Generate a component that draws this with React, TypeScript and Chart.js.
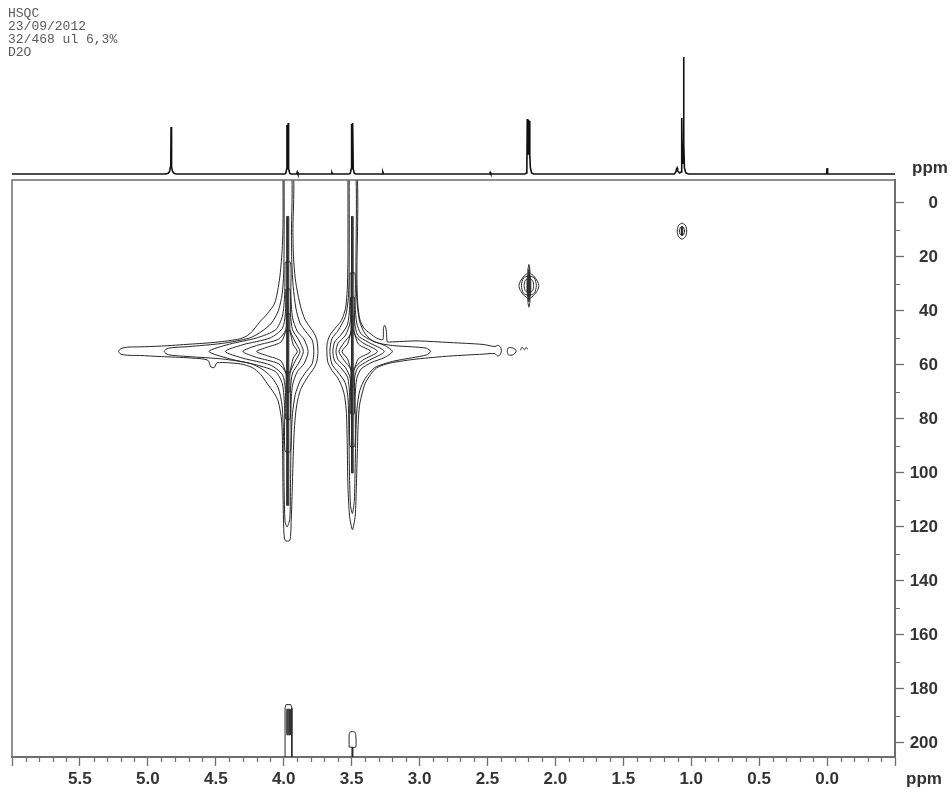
import React, { useEffect, useRef } from "react";
import { Chart, registerables } from "chart.js";
Chart.register(...registerables);

type P = [number, number];

// ---------- axes ----------
const X_MIN = -0.5;
const X_MAX = 6.0;
const Y_MIN = -8.5;
const Y_MAX = 205.2;
const xMajorTicks = [6.0, 5.5, 5.0, 4.5, 4.0, 3.5, 3.0, 2.5, 2.0, 1.5, 1.0, 0.5, 0.0, -0.5];
const xTickLabels = ["", "5.5", "5.0", "4.5", "4.0", "3.5", "3.0", "2.5", "2.0", "1.5", "1.0", "0.5", "0.0", ""];
const yMajorTicks = [0, 20, 40, 60, 80, 100, 120, 140, 160, 180, 200];
const yTickLabels = ["0", "20", "40", "60", "80", "100", "120", "140", "160", "180", "200"];
const headerLines = ["HSQC", "23/09/2012", "32/468 ul 6,3%", "D2O"];

// ---------- 1H projection (ppm, intensity) ----------
const hdoPeak: P[] = [[4.87, 0], [4.85, 0.8], [4.84, 2.5], [4.834, 7], [4.831, 18], [4.829, 47], [4.827, 18], [4.824, 7], [4.818, 2.5], [4.808, 0.8], [4.79, 0]];
const peak397: P[] = [[3.995, 0], [3.985, 0.6], [3.978, 5], [3.976, 49], [3.973, 12], [3.97, 10], [3.967, 51], [3.964, 5], [3.955, 0.6], [3.945, 0]];
const minor390: P[] = [[3.905, 0], [3.9, 2], [3.895, 0]];
const minor364: P[] = [[3.65, 0], [3.645, 1.5], [3.64, 0]];
const peak349: P[] = [[3.52, 0], [3.51, 0.6], [3.503, 5], [3.5, 50], [3.497, 12], [3.494, 10], [3.491, 51], [3.488, 5], [3.48, 0.6], [3.47, 0]];
const minor327: P[] = [[3.275, 0], [3.27, 2], [3.265, 0]];
const minor248: P[] = [[2.485, 0], [2.48, 1.5], [2.475, 0]];
const peak219: P[] = [[2.225, 0], [2.213, 1], [2.21, 6], [2.207, 55], [2.205, 20], [2.202, 55], [2.2, 20], [2.197, 54], [2.195, 20], [2.192, 53], [2.19, 16], [2.187, 19], [2.184, 6], [2.175, 1], [2.16, 0]];
const peak106: P[] = [[1.125, 0], [1.113, 2], [1.108, 5], [1.104, 6], [1.1, 3], [1.085, 1], [1.075, 2], [1.071, 12], [1.069, 56], [1.066, 14], [1.062, 10], [1.058, 30], [1.056, 117], [1.054, 30], [1.05, 6], [1.04, 1], [1.02, 0]];
const tmsPeak: P[] = [[0.004, 0], [0.0, 6], [-0.004, 0]];

// ---------- 2D contours (1H ppm, 13C ppm) ----------
const c397L1: P[] = [[4.005, -12], [4.005, 8], [4.012, 18], [4.03, 28], [4.065, 37], [4.12, 41], [4.175, 44], [4.25, 48.5], [4.32, 50.3], [4.5, 51.6], [4.69, 52.3], [4.9, 53], [5.06, 53.3], [5.15, 53.4], [5.2, 54], [5.215, 55], [5.2, 56], [5.15, 56.4], [5.06, 56.5], [4.9, 56.9], [4.69, 57.4], [4.56, 58.2], [4.535, 60.8], [4.51, 60.9], [4.49, 59.2], [4.32, 59.6], [4.23, 61], [4.17, 63.5], [4.12, 67], [4.07, 70.5], [4.04, 73.5], [4.015, 80.7], [4.008, 92], [4.005, 107], [4.0, 120], [3.99, 125], [3.955, 125], [3.945, 118], [3.937, 106], [3.93, 94], [3.922, 84], [3.91, 77], [3.895, 72.5], [3.875, 69], [3.845, 66.2], [3.81, 63.5], [3.775, 61], [3.755, 58.5], [3.748, 55], [3.755, 51], [3.775, 48.3], [3.81, 45.8], [3.845, 43], [3.875, 38.5], [3.895, 34], [3.915, 28], [3.928, 20], [3.932, 10], [3.932, -12], [4.005, -12]];
const c397L2: P[] = [[3.997, -12], [3.997, 15], [4.0, 26], [4.012, 34], [4.04, 40], [4.09, 44.5], [4.16, 47.5], [4.25, 50], [4.45, 52], [4.7, 53.2], [4.85, 53.8], [4.88, 55], [4.85, 56.2], [4.7, 56.9], [4.45, 57.8], [4.25, 59.4], [4.16, 61.5], [4.09, 64.5], [4.04, 68.5], [4.012, 75], [4.0, 88], [3.997, 105], [3.99, 118], [3.975, 120], [3.955, 117], [3.95, 104], [3.945, 88], [3.935, 78], [3.915, 71], [3.88, 66], [3.835, 62.5], [3.79, 59.5], [3.778, 55], [3.79, 50.8], [3.835, 47.8], [3.88, 44.5], [3.91, 39], [3.93, 31], [3.94, 22], [3.943, 12], [3.943, -12], [3.997, -12]];
const c397L3: P[] = [[3.99, 22], [3.993, 34], [4.01, 42], [4.06, 47], [4.2, 50], [4.4, 52.3], [4.55, 55], [4.4, 57.7], [4.2, 60], [4.06, 62.5], [4.01, 67], [3.993, 76], [3.99, 92], [3.95, 92], [3.947, 76], [3.935, 67.5], [3.9, 62.5], [3.85, 59.5], [3.82, 55], [3.85, 50.5], [3.9, 47.5], [3.935, 42.5], [3.947, 34], [3.95, 22], [3.99, 22]];
const c397L4: P[] = [[3.985, 32], [3.988, 41], [4.01, 46.5], [4.1, 50], [4.3, 52.5], [4.43, 55], [4.3, 57.5], [4.1, 60], [4.01, 63.5], [3.988, 69], [3.985, 80], [3.953, 80], [3.95, 69], [3.935, 63], [3.89, 59.3], [3.855, 55], [3.89, 50.7], [3.935, 47], [3.95, 41], [3.953, 32], [3.985, 32]];
const c397L5: P[] = [[3.982, 41], [3.985, 47], [4.04, 50.5], [4.2, 52.8], [4.3, 55], [4.2, 57.2], [4.04, 59.5], [3.985, 63], [3.982, 70], [3.956, 70], [3.953, 63], [3.915, 58.5], [3.88, 55], [3.915, 51.5], [3.953, 47], [3.956, 41], [3.982, 41]];
const c397L6: P[] = [[3.98, 47], [4.02, 51.5], [4.12, 53.4], [4.2, 55], [4.12, 56.6], [4.02, 58.5], [3.98, 63], [3.958, 63], [3.93, 57.5], [3.9, 55], [3.93, 52.5], [3.958, 47], [3.98, 47]];
const c397Core: P[] = [[3.976, 5], [3.976, 112], [3.962, 112], [3.962, 5], [3.976, 5]];

const c349L1: P[] = [[3.527, -12], [3.527, 20], [3.532, 32], [3.545, 39], [3.575, 43.5], [3.623, 46.5], [3.66, 49], [3.68, 52], [3.682, 55.5], [3.675, 59], [3.645, 62], [3.6, 65], [3.568, 68.5], [3.55, 72], [3.538, 78], [3.532, 90], [3.527, 105], [3.515, 116], [3.494, 121], [3.474, 116], [3.465, 105], [3.458, 92], [3.452, 82], [3.442, 75], [3.42, 70], [3.4, 66.8], [3.36, 63.5], [3.314, 61], [3.218, 59.3], [3.019, 57.8], [2.776, 56.7], [2.533, 56], [2.445, 55.8], [2.425, 56.7], [2.405, 56.1], [2.398, 54.8], [2.405, 53.3], [2.425, 52.7], [2.445, 53.2], [2.533, 52.4], [2.776, 51.7], [3.019, 51.1], [3.218, 51.5], [3.238, 51.4], [3.243, 48], [3.25, 45.8], [3.258, 45.3], [3.266, 46.6], [3.27, 50.6], [3.314, 50.1], [3.365, 48.3], [3.41, 46.3], [3.44, 43], [3.455, 37], [3.461, 28], [3.461, -12], [3.527, -12]];
const c349L2: P[] = [[3.518, -12], [3.518, 24], [3.524, 35], [3.545, 42], [3.6, 47.3], [3.645, 50.3], [3.66, 55], [3.645, 59.7], [3.6, 62.7], [3.548, 66.5], [3.527, 72], [3.52, 85], [3.516, 100], [3.508, 112], [3.494, 115], [3.48, 110], [3.474, 98], [3.468, 84], [3.46, 76], [3.44, 69.5], [3.4, 65], [3.33, 61], [3.2, 58.7], [3.05, 57.3], [2.95, 56.3], [2.918, 55], [2.95, 53.8], [3.05, 53.3], [3.2, 52.8], [3.33, 51.5], [3.4, 48.5], [3.44, 44], [3.46, 37], [3.468, 26], [3.47, -12], [3.518, -12]];
const c349L3: P[] = [[3.512, 26], [3.514, 38], [3.53, 45], [3.58, 49], [3.625, 51.5], [3.638, 55], [3.625, 58.5], [3.58, 61], [3.53, 64.5], [3.514, 72], [3.512, 90], [3.476, 90], [3.474, 72], [3.462, 65], [3.43, 61.5], [3.35, 59], [3.26, 57.3], [3.2, 55], [3.26, 52.7], [3.35, 51], [3.43, 48.5], [3.462, 44.5], [3.474, 38], [3.476, 26], [3.512, 26]];
const c349L4: P[] = [[3.508, 35], [3.51, 44], [3.545, 49], [3.6, 52], [3.615, 55], [3.6, 58], [3.545, 61], [3.51, 65], [3.508, 78], [3.48, 78], [3.478, 65], [3.455, 61], [3.38, 58.5], [3.26, 55], [3.38, 51.5], [3.455, 49], [3.478, 44], [3.48, 35], [3.508, 35]];
const c349L5: P[] = [[3.505, 42], [3.508, 48.5], [3.555, 51.7], [3.593, 55], [3.555, 58.3], [3.508, 61.5], [3.505, 68], [3.483, 68], [3.48, 61.5], [3.42, 58.3], [3.31, 55], [3.42, 51.7], [3.48, 48.5], [3.483, 42], [3.505, 42]];
const c349L6: P[] = [[3.502, 47], [3.53, 52.3], [3.571, 55], [3.53, 57.7], [3.502, 62], [3.486, 62], [3.45, 57.7], [3.36, 55], [3.45, 52.3], [3.486, 47], [3.502, 47]];
const c349Core: P[] = [[3.5, 5], [3.5, 100], [3.488, 100], [3.488, 5], [3.5, 5]];
const tailBlobA: P[] = [[2.355, 55], [2.345, 53.6], [2.31, 53.8], [2.288, 54.8], [2.31, 56.2], [2.345, 56.3], [2.355, 55]];
const tailBlobB: P[] = [[2.258, 54.6], [2.245, 53.4], [2.228, 54.4], [2.215, 53.5], [2.205, 54.2]];

const c219L1: P[] = [[2.195, 22.8], [2.188, 24.5], [2.185, 26], [2.16, 27], [2.132, 29], [2.122, 30.6], [2.132, 32.4], [2.16, 34.3], [2.185, 35.3], [2.188, 36.8], [2.195, 38.6], [2.202, 36.8], [2.205, 35.3], [2.23, 34.3], [2.258, 32.4], [2.268, 30.6], [2.258, 29], [2.23, 27], [2.205, 26], [2.202, 24.5], [2.195, 22.8]];
const c219L2: P[] = [[2.195, 27], [2.235, 27.8], [2.25, 30.6], [2.235, 33.4], [2.195, 34.2], [2.155, 33.4], [2.14, 30.6], [2.155, 27.8], [2.195, 27]];
const c219L3: P[] = [[2.195, 28], [2.222, 28.7], [2.23, 30.6], [2.222, 32.5], [2.195, 33.2], [2.168, 32.5], [2.16, 30.6], [2.168, 28.7], [2.195, 28]];
const c219Core: P[] = [[2.195, 24.6], [2.207, 28], [2.208, 33], [2.195, 36.6], [2.182, 33], [2.183, 28], [2.195, 24.6]];

const c106L1: P[] = [[1.068, 7.4], [1.093, 8.3], [1.103, 10.4], [1.093, 12.5], [1.068, 13.4], [1.043, 12.5], [1.033, 10.4], [1.043, 8.3], [1.068, 7.4]];
const c106L2: P[] = [[1.068, 8.7], [1.082, 9.3], [1.087, 10.4], [1.082, 11.5], [1.068, 12.1], [1.054, 11.5], [1.049, 10.4], [1.054, 9.3], [1.068, 8.7]];
const c106Core: P[] = [[1.062, 8.8], [1.072, 8.8], [1.072, 12], [1.062, 12], [1.062, 8.8]];

const fold397: P[] = [[3.99, 212], [3.99, 187], [3.982, 185.8], [3.948, 185.8], [3.94, 187], [3.94, 212], [3.99, 212]];
const fold397Core: P[] = [[3.978, 197], [3.978, 187.5], [3.952, 187.5], [3.952, 197], [3.978, 197]];
const fold349: P[] = [[3.518, 201.5], [3.518, 196.8], [3.51, 195.9], [3.478, 195.9], [3.47, 196.8], [3.47, 201.5], [3.518, 201.5]];
const fold349Tail: P[] = [[3.494, 201.5], [3.494, 212]];

// ---------- styles ----------
const AXIS = "#6e6e6e";
const INK = "#262626";
const LABEL = "#333333";
const labelFont = { family: "'Liberation Sans', Arial, sans-serif", size: 17, weight: "bold" as const };

type CDef = { pts: P[]; fill?: string; w?: number; t?: number };
const contours: CDef[] = [
  { pts: c397L1 }, { pts: c397L2 }, { pts: c397L3 }, { pts: c397L4 }, { pts: c397L5 }, { pts: c397L6 },
  { pts: c397Core, fill: "#4a4a4a", w: 0.8, t: 0 },
  { pts: c349L1 }, { pts: c349L2 }, { pts: c349L3 }, { pts: c349L4 }, { pts: c349L5 }, { pts: c349L6 },
  { pts: c349Core, fill: "#4a4a4a", w: 0.8, t: 0 },
  { pts: tailBlobA }, { pts: tailBlobB },
  { pts: c219L1 }, { pts: c219L2 }, { pts: c219L3 }, { pts: c219Core, fill: "#333", w: 1 },
  { pts: c106L1 }, { pts: c106L2 }, { pts: c106Core, fill: "#333", w: 0.8, t: 0 },
  { pts: fold397, t: 0 }, { pts: fold397Core, fill: "#4a4a4a", w: 0.8, t: 0 },
  { pts: fold349, t: 0.2 }, { pts: fold349Tail, w: 2, t: 0 },
];

const minorTicks = {
  id: "minorTicks",
  afterDraw(chart: any) {
    const { ctx } = chart;
    const xs = chart.scales.x;
    const ys = chart.scales.y;
    const { left, top, right, bottom } = chart.chartArea;
    ctx.save();
    // box (top & left)
    ctx.strokeStyle = AXIS;
    ctx.lineWidth = 1.5;
    ctx.beginPath();
    ctx.moveTo(left, bottom);
    ctx.lineTo(left, top);
    ctx.lineTo(right, top);
    ctx.stroke();
    ctx.lineWidth = 1.2;
    ctx.beginPath();
    for (let i = Math.round(X_MIN * 10); i <= Math.round(X_MAX * 10); i++) {
      if (i % 5 === 0) continue;
      const px = Math.round(xs.getPixelForValue(i / 10)) + 0.5;
      ctx.moveTo(px, xs.top);
      ctx.lineTo(px, xs.top + 5);
    }
    for (let v = 10; v <= 200; v += 20) {
      const py = Math.round(ys.getPixelForValue(v)) + 0.5;
      ctx.moveTo(ys.left, py);
      ctx.lineTo(ys.left + 5, py);
    }
    ctx.stroke();
    ctx.restore();
  },
};

export default function App() {
  const mainRef = useRef<HTMLCanvasElement>(null);
  const topRef = useRef<HTMLCanvasElement>(null);

  useEffect(() => {
    const datasets = contours.map((c) => ({
      data: c.pts.map(([x, y]) => ({ x, y })),
      showLine: true,
      borderColor: INK,
      borderWidth: c.w ?? 1,
      pointRadius: 0,
      tension: c.t ?? 0.25,
      fill: c.fill ? "shape" : false,
      backgroundColor: c.fill ?? "transparent",
    }));

    const main = new Chart(mainRef.current as HTMLCanvasElement, {
      type: "scatter",
      data: { datasets: datasets as any },
      options: {
        animation: false,
        responsive: false,
        maintainAspectRatio: false,
        layout: { padding: { left: 12, top: 180, right: 14, bottom: 0 } },
        plugins: { legend: { display: false }, tooltip: { enabled: false } },
        scales: {
          x: {
            type: "linear",
            reverse: true,
            min: X_MIN,
            max: X_MAX,
            position: "bottom",
            afterBuildTicks: (s: any) => {
              s.ticks = xMajorTicks.map((v) => ({ value: v }));
            },
            afterFit: (s: any) => {
              s.height = 37;
            },
            ticks: {
              autoSkip: false,
              maxRotation: 0,
              padding: 3,
              color: LABEL,
              font: labelFont,
              callback: (v: any) => {
                const i = xMajorTicks.findIndex((t) => Math.abs(t - Number(v)) < 1e-6);
                return i >= 0 ? xTickLabels[i] : "";
              },
            },
            grid: { drawOnChartArea: false, drawTicks: true, tickLength: 9, tickColor: AXIS, tickWidth: 1.3 },
            border: { display: true, color: AXIS, width: 2 },
          },
          y: {
            type: "linear",
            reverse: true,
            min: Y_MIN,
            max: Y_MAX,
            position: "right",
            afterBuildTicks: (s: any) => {
              s.ticks = yMajorTicks.map((v) => ({ value: v }));
            },
            afterFit: (s: any) => {
              s.width = 43;
            },
            ticks: {
              autoSkip: false,
              padding: 3,
              crossAlign: "far",
              color: LABEL,
              font: labelFont,
              callback: (v: any) => {
                const i = yMajorTicks.findIndex((t) => Math.abs(t - Number(v)) < 1e-6);
                return i >= 0 ? yTickLabels[i] : "";
              },
            },
            grid: { drawOnChartArea: false, drawTicks: true, tickLength: 9, tickColor: AXIS, tickWidth: 1.3 },
            border: { display: true, color: AXIS, width: 2 },
          },
        },
      },
      plugins: [minorTicks],
    });

    const trace: P[] = [
      [X_MAX, 0], ...hdoPeak, ...peak397, ...minor390, ...minor364, ...peak349,
      ...minor327, ...minor248, ...peak219, ...peak106, ...tmsPeak, [X_MIN, 0],
    ];
    const top = new Chart(topRef.current as HTMLCanvasElement, {
      type: "scatter",
      data: {
        datasets: [
          {
            data: trace.map(([x, y]) => ({ x, y })),
            showLine: true,
            borderColor: "#111",
            borderWidth: 1.6,
            pointRadius: 0,
            tension: 0,
            clip: false,
          } as any,
        ],
      },
      options: {
        animation: false,
        responsive: false,
        maintainAspectRatio: false,
        layout: { padding: { left: 12, right: 57, top: 54, bottom: 5 } },
        plugins: { legend: { display: false }, tooltip: { enabled: false } },
        scales: {
          x: { type: "linear", reverse: true, min: X_MIN, max: X_MAX, display: false },
          y: { type: "linear", min: 0, max: 120, display: false },
        },
      },
    });

    return () => {
      main.destroy();
      top.destroy();
    };
  }, []);

  const ppmStyle: React.CSSProperties = {
    position: "absolute",
    font: "bold 17px 'Liberation Sans', Arial, sans-serif",
    lineHeight: "17px",
    color: LABEL,
  };

  return (
    <div style={{ position: "fixed", left: 0, top: 0, width: 952, height: 794, background: "#fff", overflow: "hidden" }}>
      <canvas ref={mainRef} width={952} height={794} style={{ position: "absolute", left: 0, top: 0 }} />
      <canvas ref={topRef} width={952} height={179} style={{ position: "absolute", left: 0, top: 0 }} />
      <div
        style={{
          position: "absolute",
          left: 8,
          top: 7,
          font: "13px 'Liberation Mono', 'DejaVu Sans Mono', monospace",
          lineHeight: "13px",
          color: "#5a5a5a",
          whiteSpace: "pre",
        }}
      >
        {headerLines.join("\n")}
      </div>
      <div style={{ ...ppmStyle, left: 912, top: 159 }}>ppm</div>
      <div style={{ ...ppmStyle, left: 906, top: 770 }}>ppm</div>
    </div>
  );
}
